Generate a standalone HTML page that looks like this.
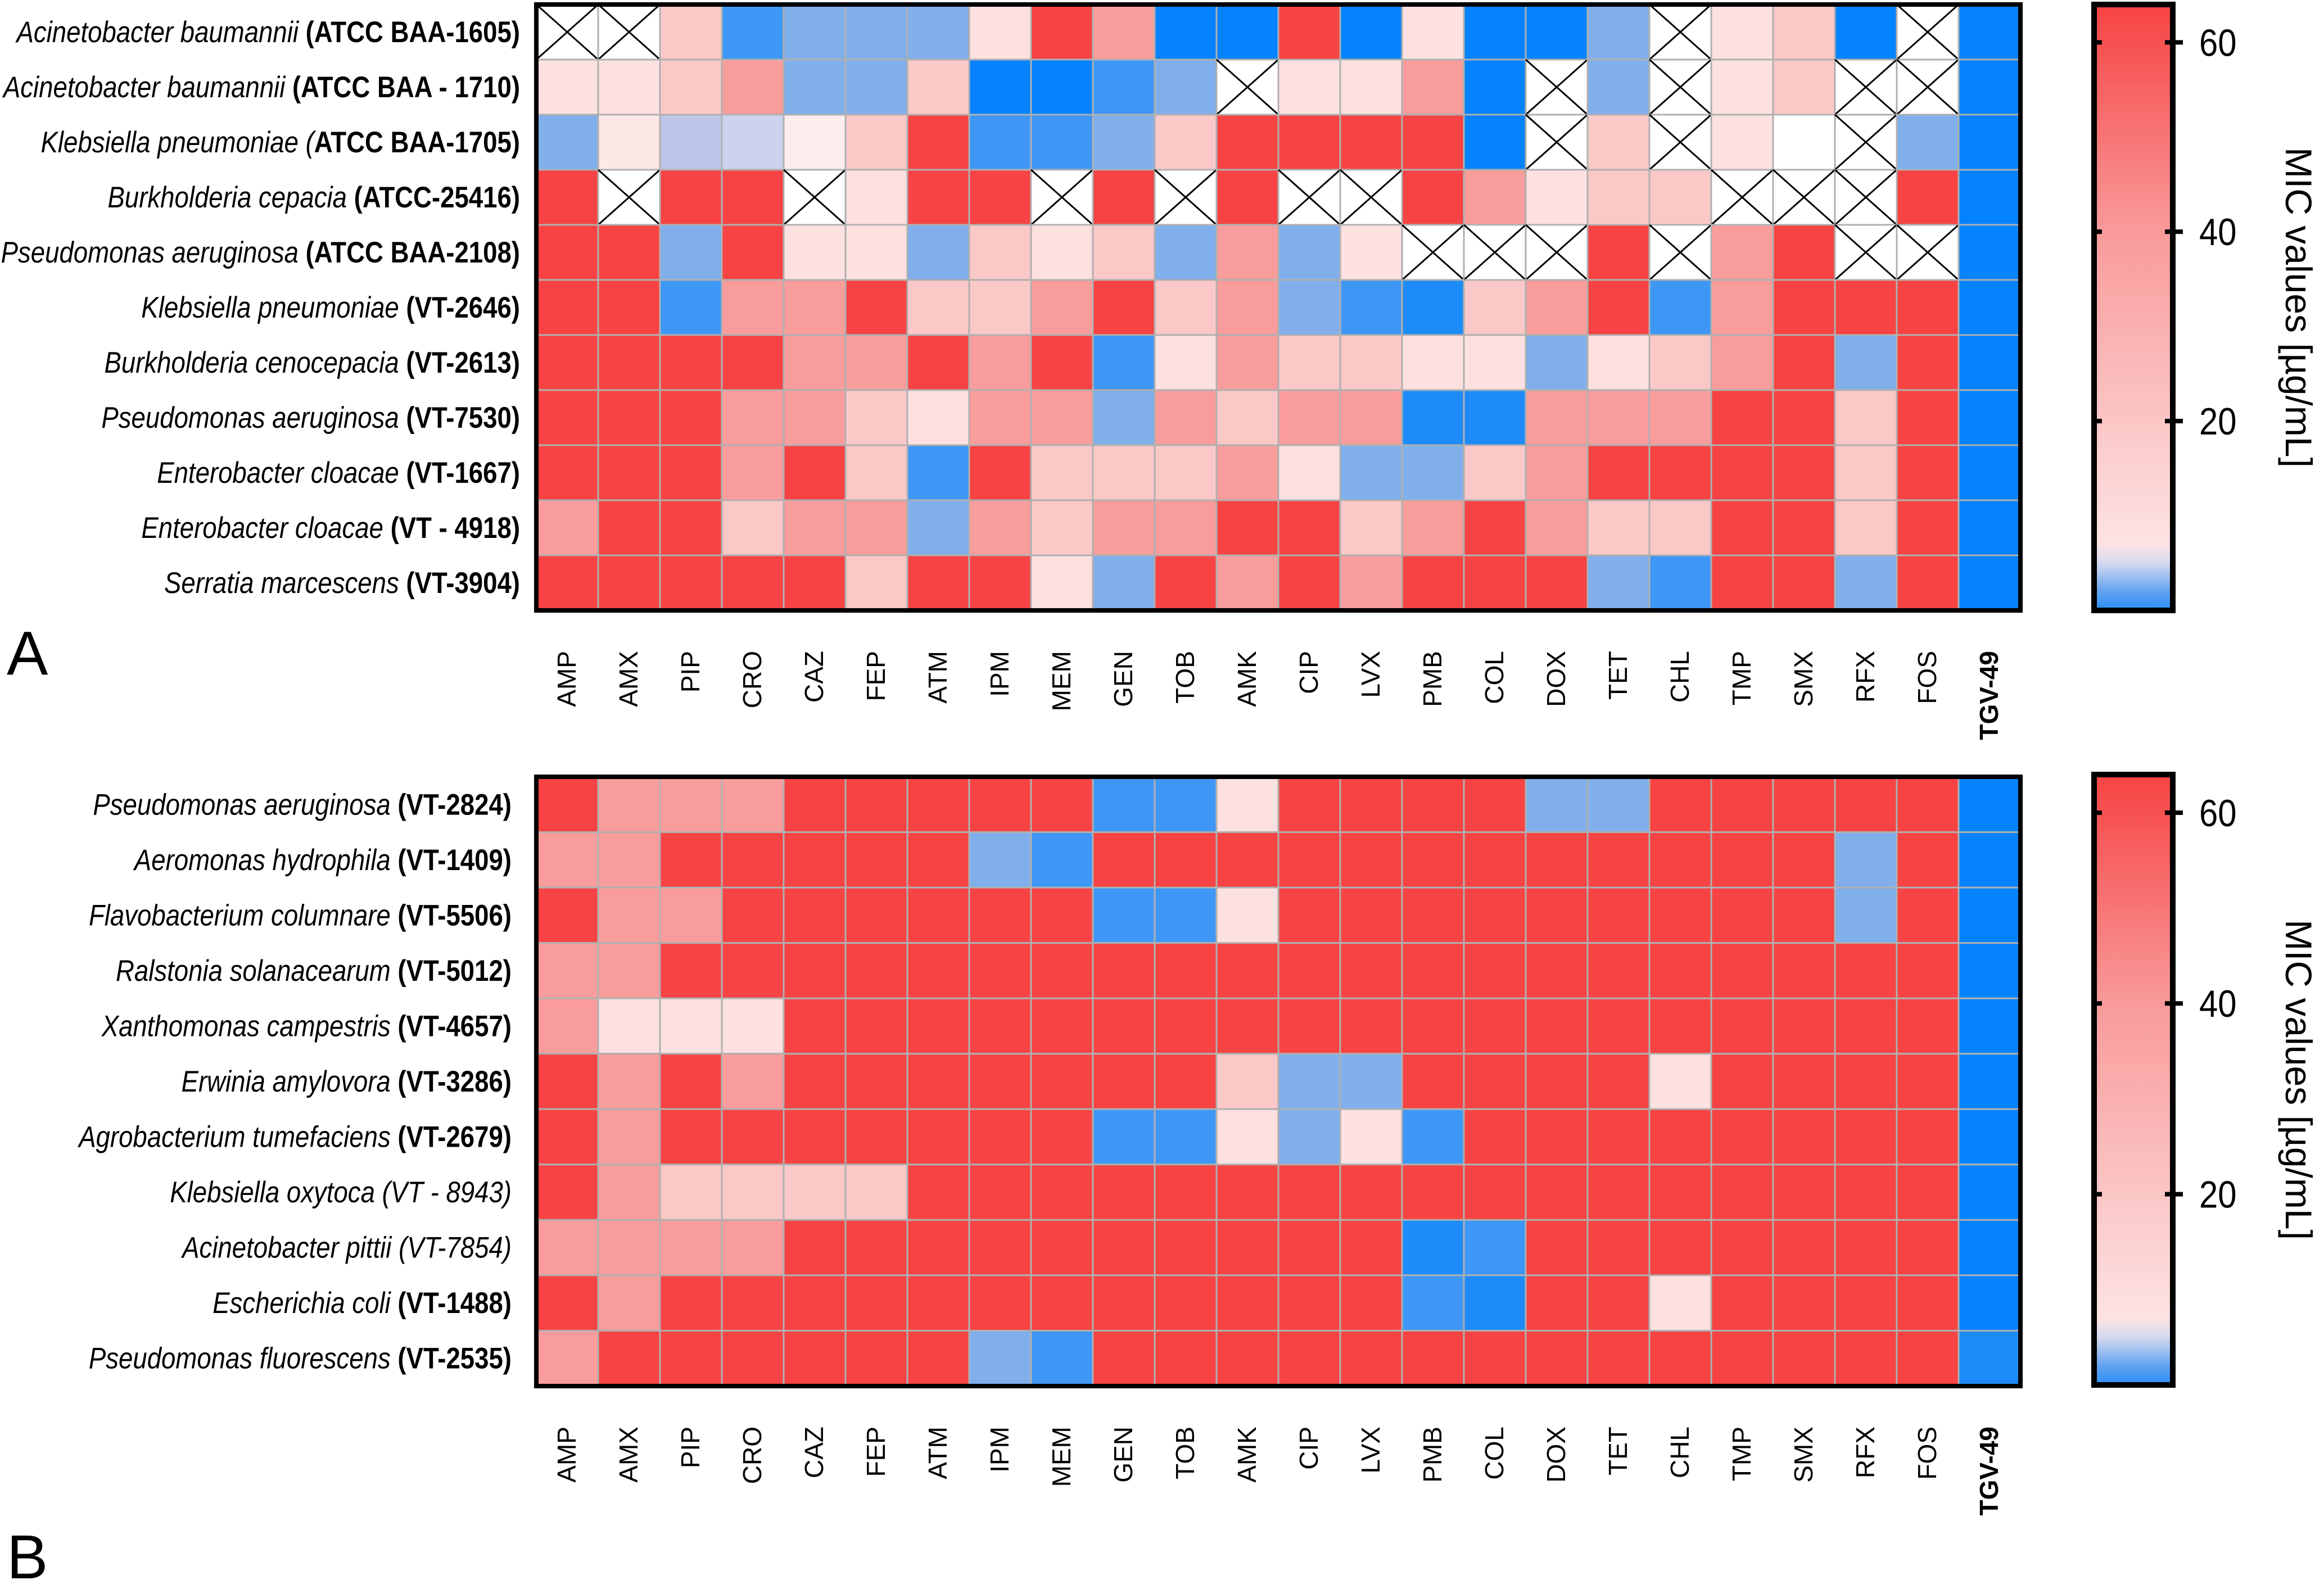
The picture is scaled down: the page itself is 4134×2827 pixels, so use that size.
<!DOCTYPE html>
<html><head><meta charset="utf-8"><style>
html,body{margin:0;padding:0;background:#fff;}
svg{display:block;}
text{font-family:"Liberation Sans",sans-serif;}
</style></head><body>
<svg id="chart" xmlns="http://www.w3.org/2000/svg" width="4134" height="2827" viewBox="0 0 4134 2827"></svg>
<script>
const antibiotics=["AMP","AMX","PIP","CRO","CAZ","FEP","ATM","IPM","MEM","GEN","TOB","AMK","CIP","LVX","PMB","COL","DOX","TET","CHL","TMP","SMX","RFX","FOS","TGV-49"];
const strainsA=[["Acinetobacter baumannii ","(ATCC BAA-1605)"],["Acinetobacter baumannii ","(ATCC BAA - 1710)"],["Klebsiella pneumoniae (","ATCC BAA-1705)"],["Burkholderia cepacia ","(ATCC-25416)"],["Pseudomonas aeruginosa ","(ATCC BAA-2108)"],["Klebsiella pneumoniae ","(VT-2646)"],["Burkholderia cenocepacia ","(VT-2613)"],["Pseudomonas aeruginosa ","(VT-7530)"],["Enterobacter cloacae ","(VT-1667)"],["Enterobacter cloacae ","(VT - 4918)"],["Serratia marcescens ","(VT-3904)"]];
const strainsB=[["Pseudomonas aeruginosa ","(VT-2824)"],["Aeromonas hydrophila ","(VT-1409)"],["Flavobacterium columnare ","(VT-5506)"],["Ralstonia solanacearum ","(VT-5012)"],["Xanthomonas campestris ","(VT-4657)"],["Erwinia amylovora ","(VT-3286)"],["Agrobacterium tumefaciens ","(VT-2679)"],["Klebsiella oxytoca (VT - 8943)",""],["Acinetobacter pittii (VT-7854)",""],["Escherichia coli ","(VT-1488)"],["Pseudomonas fluorescens ","(VT-2535)"]];
const X=null;
const valuesA=[
[X,X,16,1,2,2,2,8,64,32,0.5,0.5,64,0.5,8,0.5,0.5,2,X,8,16,0.5,X,0.5],
[8,8,16,32,2,2,16,0.5,0.5,1,2,X,8,8,32,0.5,X,2,X,8,16,X,X,0.5],
[2,7,3,3.2,6,16,64,1,1,2,16,64,64,64,64,0.5,X,16,X,8,4,X,2,0.5],
[64,X,64,64,X,8,64,64,X,64,X,64,X,X,64,32,8,16,16,X,X,X,64,0.5],
[64,64,2,64,8,8,2,16,8,16,2,32,2,8,X,X,X,64,X,32,64,X,X,0.5],
[64,64,1,32,32,64,16,16,32,64,16,32,2,1,0.8,16,32,64,1,32,64,64,64,0.5],
[64,64,64,64,32,32,64,32,64,1,8,32,16,16,8,8,2,8,16,32,64,2,64,0.5],
[64,64,64,32,32,16,8,32,32,2,32,16,32,32,0.8,0.8,32,32,32,64,64,16,64,0.5],
[64,64,64,32,64,16,1,64,16,16,16,32,8,2,2,16,32,64,64,64,64,16,64,0.5],
[32,64,64,16,32,32,2,32,16,32,32,64,64,16,32,64,32,16,16,64,64,16,64,0.5],
[64,64,64,64,64,16,64,64,8,2,64,32,64,32,64,64,64,2,1,64,64,2,64,0.5]];
const valuesB=[
[64,32,32,32,64,64,64,64,64,1,1,8,64,64,64,64,2,2,64,64,64,64,64,0.5],
[32,32,64,64,64,64,64,2,1,64,64,64,64,64,64,64,64,64,64,64,64,2,64,0.5],
[64,32,32,64,64,64,64,64,64,1,1,8,64,64,64,64,64,64,64,64,64,2,64,0.5],
[32,32,64,64,64,64,64,64,64,64,64,64,64,64,64,64,64,64,64,64,64,64,64,0.5],
[32,8,8,8,64,64,64,64,64,64,64,64,64,64,64,64,64,64,64,64,64,64,64,0.5],
[64,32,64,32,64,64,64,64,64,64,64,16,2,2,64,64,64,64,8,64,64,64,64,0.5],
[64,32,64,64,64,64,64,64,64,1,1,8,2,8,1,64,64,64,64,64,64,64,64,0.5],
[64,32,16,16,16,16,64,64,64,64,64,64,64,64,64,64,64,64,64,64,64,64,64,0.5],
[32,32,32,32,64,64,64,64,64,64,64,64,64,64,0.8,1,64,64,64,64,64,64,64,0.5],
[64,32,64,64,64,64,64,64,64,64,64,64,64,64,1,0.8,64,64,8,64,64,64,64,0.5],
[32,64,64,64,64,64,64,2,1,64,64,64,64,64,64,64,64,64,64,64,64,64,64,0.8]];
const colorbarTicks=[20,40,60];
const cbMax=64;

const NS="http://www.w3.org/2000/svg";
const svg=document.getElementById("chart");
function mk(tag,attrs,parent){const e=document.createElementNS(NS,tag);for(const k in attrs)e.setAttribute(k,attrs[k]);(parent||svg).appendChild(e);return e;}
const stops=[[0.5,"#0583FE"],[0.8,"#1E8CF8"],[1,"#3F97F5"],[2,"#80AFEB"],[3,"#BDC6E8"],[4,"#FFFFFF"],[8,"#FDE1E1"],[16,"#FBC8C8"],[32,"#F99C9C"],[64,"#F74343"]];
function hex(h){return[1,3,5].map(i=>parseInt(h.substr(i,2),16));}
function color(v){
 if(v<=stops[0][0])return stops[0][1];
 for(let i=1;i<stops.length;i++){if(v<=stops[i][0]){const a=stops[i-1],b=stops[i];const t=(Math.log(v)-Math.log(a[0]))/(Math.log(b[0])-Math.log(a[0]));const ca=hex(a[1]),cb=hex(b[1]);return"rgb("+ca.map((c,j)=>Math.round(c+(cb[j]-c)*t)).join(",")+")";}}
 return stops[stops.length-1][1];
}
const x0=954,x1=3594,cw=(x1-x0)/antibiotics.length;
function xScale(i){return x0+i*cw;}

function panel(vals,strains,top,bottom,tag,cbTop,cbBottom,labelTop,letterY,labelRight){
 const rh=(bottom-top)/strains.length;
 const g=mk("g",{});
 
 
 vals.forEach((row,r)=>{row.forEach((v,c)=>{
  const x=xScale(c),y=top+r*rh;
  const rect=mk("rect",{x:x,y:y,width:cw,height:rh,fill:v===null?"#fff":color(v),stroke:"#b0b0b0","stroke-width":3},g);
  
  
  if(v===null){
   const p=mk("path",{d:`M${x} ${y}L${x+cw} ${y+rh}M${x+cw} ${y}L${x} ${y+rh}`,stroke:"#000","stroke-width":3,fill:"none"},g);
   
   
  }
 });});
 const bd=mk("rect",{x:x0,y:top,width:x1-x0,height:bottom-top,fill:"none",stroke:"#000","stroke-width":8},g);
 
 
 strains.forEach((s,r)=>{
  const t=mk("text",{x:labelRight,y:top+(r+0.5)*rh+18,"text-anchor":"end","font-size":53,transform:`translate(${labelRight} 0) scale(0.86 1) translate(-${labelRight} 0)`},g);
  
  
  const a=mk("tspan",{"font-style":"italic"},t);a.textContent=s[0];
  if(s[1]){const b=mk("tspan",{"font-weight":"bold"},t);b.textContent=s[1];}
 });
 antibiotics.forEach((a,c)=>{
  const cx=xScale(c)+cw/2+15;
  const t=mk("text",{x:cx,y:labelTop,"text-anchor":"end","font-size":46,transform:`rotate(-90 ${cx} ${labelTop})`,"font-weight":c===23?"bold":"normal"},g);
  
  
  t.textContent=a;
 });
 const cbx=3725,cbw=140;
 const gid="grad"+tag;
 const defs=mk("defs",{},g);
 const lg=mk("linearGradient",{id:gid,x1:0,y1:1,x2:0,y2:0},defs);
 [[0,"#2a8ef6"],[2,"#62a3f1"],[5,"#d6d9ef"],[7,"#fde3e3"],[20,"#fbc6c6"],[40,"#f99a9a"],[64,"#f74343"]].forEach(s=>mk("stop",{offset:s[0]/cbMax,"stop-color":s[1]},lg));
 const cb=mk("rect",{x:cbx,y:cbTop,width:cbw,height:cbBottom-cbTop,fill:`url(#${gid})`,stroke:"#000","stroke-width":10},g);
 
 
 const yv=v=>cbBottom-(v/cbMax)*(cbBottom-cbTop);
 colorbarTicks.forEach(v=>{
  const y=yv(v);
  mk("line",{x1:cbx-5,x2:cbx+14,y1:y,y2:y,stroke:"#000","stroke-width":8},g);
  mk("line",{x1:cbx+cbw-14,x2:cbx+cbw+18,y1:y,y2:y,stroke:"#000","stroke-width":8},g);
  const t=mk("text",{x:3912,y:y+24,"font-size":68,transform:`translate(3912 0) scale(0.88 1) translate(-3912 0)`},g);
  
  
  t.textContent=v;
 });
 const cy=(cbTop+cbBottom)/2;
 const tt=mk("text",{x:4066,y:cy,"text-anchor":"middle","font-size":66,transform:`rotate(90 4066 ${cy})`},g);
 
 
 tt.textContent="MIC values [µg/mL]";
 const L=mk("text",{x:12,y:letterY,"font-size":110},g);
 
 
 L.textContent=tag;
}
panel(valuesA,strainsA,8,1086,"A",8,1086,1158,1200,925);
panel(valuesB,strainsB,1382,2466,"B",1378,2464,2538,2808,910);
</script>
</body></html>
